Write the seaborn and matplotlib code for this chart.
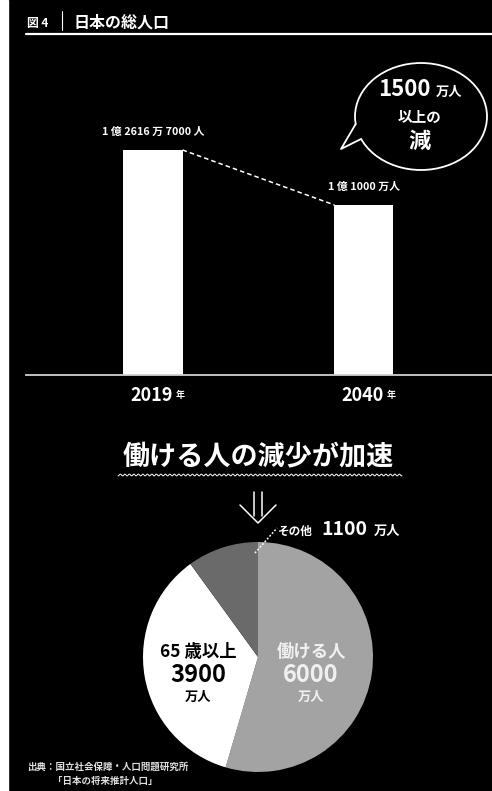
import numpy as np
import pandas as pd
import matplotlib
matplotlib.use('Agg')
import matplotlib.pyplot as plt
import seaborn as sns
from matplotlib.patches import Ellipse, Polygon, Rectangle

# data (万人)
years = ['2019', '2040']
population = [12616.7, 11000]
pop_labels = ['1 億 2616 万 7000 人', '1 億 1000 万人']

pie_names = ['働ける人', '65 歳以上', 'その他']
pie_values = [6000, 3900, 1100]
pie_colors = ['#a3a3a3', '#ffffff', '#6a6a6a']

sns.set_theme(style='white', rc={'axes.facecolor': 'black', 'figure.facecolor': 'black'})
plt.rcParams['font.family'] = ['Noto Sans CJK JP', 'DejaVu Sans']

W, H = 492, 791
fig = plt.figure(figsize=(W / 100, H / 100), dpi=100, facecolor='black')


def fx(px):
    return px / W


def fy(py):
    return 1 - py / H


# overlay for decorations, pixel coords
ov = fig.add_axes([0, 0, 1, 1], zorder=0)
ov.set_xlim(0, W)
ov.set_ylim(H, 0)
ov.axis('off')

ov.add_patch(Rectangle((0, 0), 8, H, color='white'))

# title
ov.text(27, 23, '図 4', color='white', fontsize=8.5, fontweight='bold', va='center')
ov.plot([62, 62], [11, 30], color='white', lw=0.8)
ov.text(73, 23, '日本の総人口', color='white', fontsize=11.5, fontweight='bold', va='center')
ov.plot([26, W], [33.5, 33.5], color='white', lw=1.6)

# speech bubble
ov.add_patch(Ellipse((421, 116.5), 132, 107, facecolor='black', edgecolor='white', lw=1.3, zorder=2))
ov.add_patch(Polygon([(355.7, 124), (341, 149), (361, 139), (366, 130)], closed=True,
                     facecolor='black', edgecolor='none', zorder=3))
ov.plot([355.7, 341, 361], [124, 149, 139], color='white', lw=1.3, zorder=4)
ov.text(431, 96, '1500', color='white', fontsize=16, fontweight='bold', ha='right', va='baseline', zorder=5)
ov.text(436, 96, '万人', color='white', fontsize=9.5, fontweight='bold', ha='left', va='baseline', zorder=5)
ov.text(420, 117, '以上の', color='white', fontsize=10.5, fontweight='bold', ha='center', va='center', zorder=5)
ov.text(419, 141, '減', color='white', fontsize=16, fontweight='bold', ha='center', va='center', zorder=5)

# subtitle with wavy underline
ov.text(258, 457, '働ける人の減少が加速', color='white', fontsize=19.5, fontweight='semibold',
        ha='center', va='center')
wx = np.linspace(118, 402, 600)
ov.plot(wx, 475 + 0.9 * np.sin(wx / 4.5 * 2 * np.pi), color='white', lw=0.7)

# down arrow
ov.plot([254, 254], [492, 516], color='white', lw=1.1)
ov.plot([262, 262], [492, 516], color='white', lw=1.1)
ov.plot([240, 258, 276], [505, 523, 505], color='white', lw=1.1)

# source
ov.text(27, 767, '出典：国立社会保障・人口問題研究所', color='#e0e0e0', fontsize=6.8,
        fontweight='bold', va='center')
ov.text(53, 781, '「日本の将来推計人口」', color='#e0e0e0', fontsize=6.8,
        fontweight='bold', va='center')

# bar chart
ax = fig.add_axes([fx(26), fy(375), fx(W) - fx(26), fy(40) - fy(375)], zorder=1)
ax.set_facecolor('none')
df = pd.DataFrame({'year': years, 'pop': population})
sns.barplot(data=df, x='year', y='pop', color='white', saturation=1, width=0.28,
            linewidth=0, ax=ax)
ax.set_xlim(-0.602, 1.607)
ax.set_ylim(6000, 15851)
for s in ['top', 'left', 'right']:
    ax.spines[s].set_visible(False)
ax.spines['bottom'].set_color('#d0d0d0')
ax.spines['bottom'].set_linewidth(1.3)
ax.set_xticks([])
ax.set_yticks([])
ax.set_xlabel('')
ax.set_ylabel('')

ax.plot([0.14, 0.86], population, color='white', lw=1.1, ls=(0, (3, 2)))
for i, (v, lab) in enumerate(zip(population, pop_labels)):
    ax.annotate(lab, (i, v), xytext=(0, 13), textcoords='offset points',
                ha='center', va='center', color='white', fontsize=7.8, fontweight='bold')
    ax.annotate(years[i], (i, 6000), xytext=(14, -14.5), textcoords='offset points',
                ha='right', va='center', color='white', fontsize=13, fontweight='bold')
    ax.annotate('年', (i, 6000), xytext=(16.5, -14.5), textcoords='offset points',
                ha='left', va='center', color='white', fontsize=6.5, fontweight='bold')

# pie chart
r_px = 115
cx, cy = 258, 657
pax = fig.add_axes([fx(cx - r_px), fy(cy + r_px), 2 * r_px / W, 2 * r_px / H], zorder=1)
pax.pie(pie_values, colors=pie_colors, startangle=90, counterclock=False,
        wedgeprops=dict(linewidth=0))
pax.set_xlim(-1, 1)
pax.set_ylim(-1, 1)


def pp(px, py):
    return (px - cx) / r_px, (cy - py) / r_px


tc = '#f0f0f0'
pax.text(*pp(312, 652), pie_names[0], color=tc, fontsize=12.5, fontweight='bold', ha='center', va='center')
pax.text(*pp(311, 675), f'{pie_values[0]}', color=tc, fontsize=17, fontweight='bold', ha='center', va='center')
pax.text(*pp(311, 697), '万人', color=tc, fontsize=9.5, fontweight='bold', ha='center', va='center')
pax.text(*pp(198, 652), pie_names[1], color='black', fontsize=12.5, fontweight='bold', ha='center', va='center')
pax.text(*pp(198, 675), f'{pie_values[1]}', color='black', fontsize=17, fontweight='bold', ha='center', va='center')
pax.text(*pp(198, 697), '万人', color='black', fontsize=9.5, fontweight='bold', ha='center', va='center')

# その他 label outside
ov2 = fig.add_axes([0, 0, 1, 1], zorder=2)
ov2.set_xlim(0, W)
ov2.set_ylim(H, 0)
ov2.axis('off')
ov2.plot([255, 277], [553, 528], color='white', lw=1.1, ls=(0, (1.2, 1.2)))
ov2.text(278, 535, pie_names[2], color='white', fontsize=8.4, fontweight='bold', ha='left', va='baseline')
ov2.text(321, 535, f'{pie_values[2]}', color='white', fontsize=14, fontweight='bold', ha='left', va='baseline')
ov2.text(374, 535, '万人', color='white', fontsize=9.5, fontweight='bold', ha='left', va='baseline')

fig.savefig('out.png', dpi=100, facecolor='black')
